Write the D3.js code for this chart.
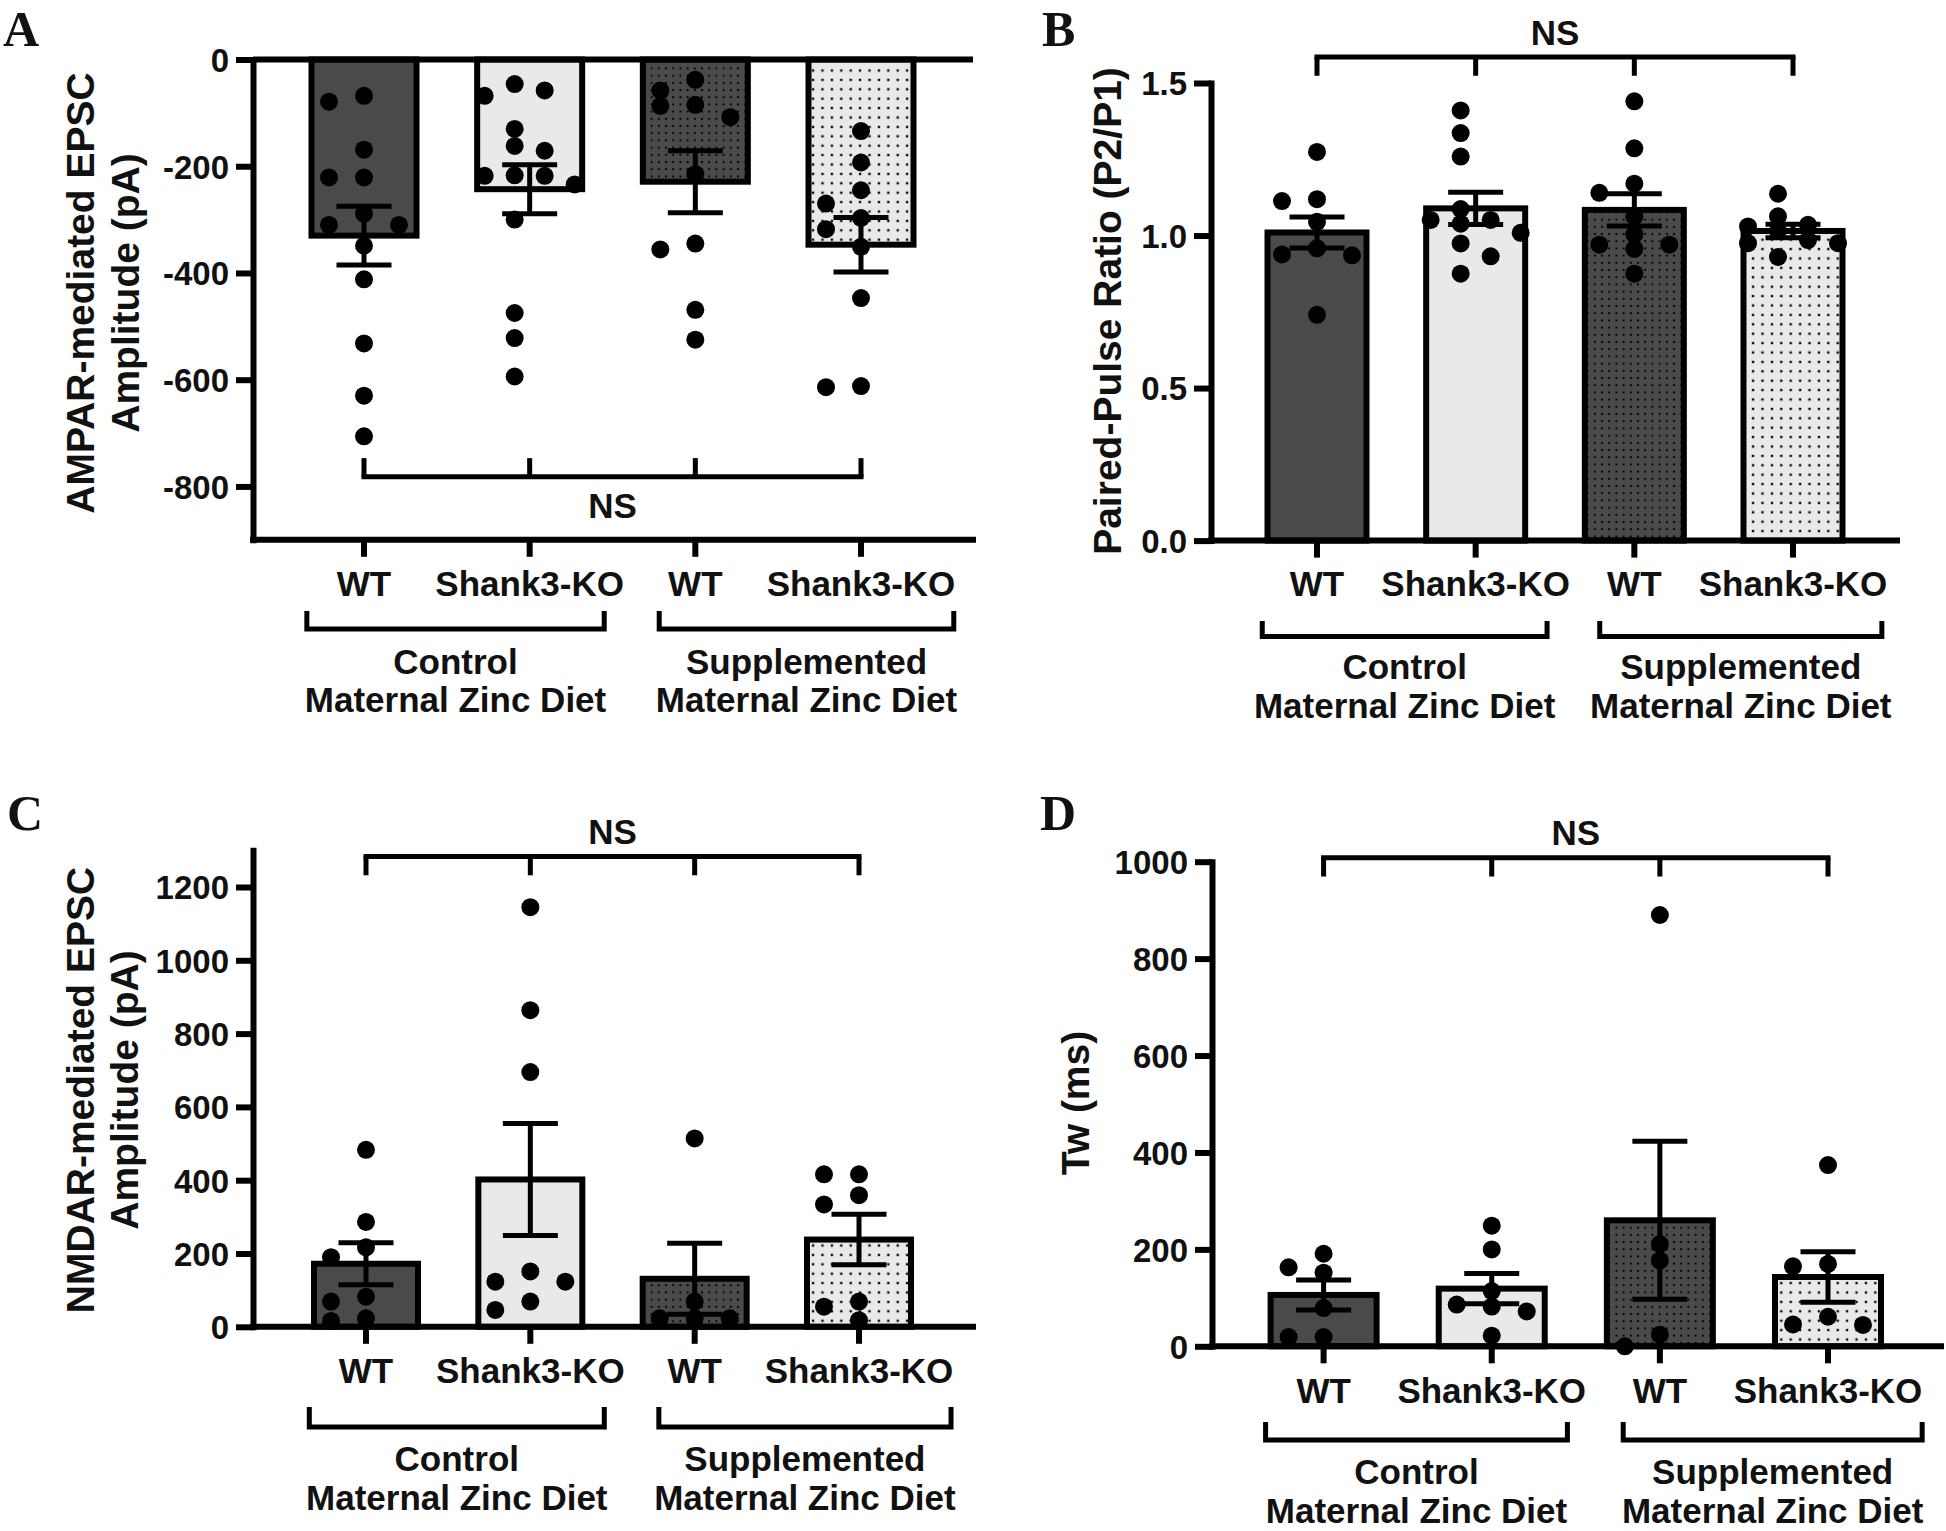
<!DOCTYPE html>
<html><head><meta charset="utf-8">
<script src="https://cdn.jsdelivr.net/npm/d3@7"></script>
<style>
body{margin:0;background:#fff;}
text{font-family:"Liberation Sans",Arial,sans-serif;font-weight:bold;fill:#111;}
</style>
</head><body>
<svg id="c" width="1946" height="1531"></svg>
<script>
// ---------- DATA ----------
const categories = ["WT","Shank3-KO","WT","Shank3-KO"];
const groupNames = ["Control","Supplemented"];
const groupSub = "Maternal Zinc Diet";
const nsLabel = "NS";

// Panel A: AMPAR-mediated EPSC amplitude (pA)
const ampaTitle = ["AMPAR-mediated EPSC","Amplitude (pA)"];
const ampaTicks = [0,-200,-400,-600,-800];
const ampaMean = [-330,-243,-229,-347];
const ampaSem  = [55,46,58,51];
const ampaWTCtrl = [-68,-79,-169,-221,-221,-289,-310,-310,-349,-412,-532,-630,-706];
const ampaKOCtrl = [-46,-58,-68,-130,-162,-171,-217,-218,-218,-234,-300,-475,-522,-594];
const ampaWTSupp = [-38,-58,-85,-87,-108,-215,-345,-356,-469,-525];
const ampaKOSupp = [-134,-193,-245,-270,-297,-318,-351,-447,-612,-614];

// Panel B: Paired-pulse ratio
const ppTitle = ["Paired-Pulse Ratio (P2/P1)"];
const ppTicks = [0,0.5,1.0,1.5];
const ppMean = [1.01,1.089,1.084,1.015];
const ppSem  = [0.051,0.053,0.053,0.022];
const ppWTCtrl = [1.274,1.119,1.113,1.045,0.958,0.938,0.935,0.74];
const ppKOCtrl = [1.41,1.336,1.259,1.087,1.051,1.051,1.039,1.009,0.974,0.932,0.875];
const ppWTSupp = [1.44,1.286,1.17,1.14,1.063,1.004,0.97,0.97,0.956,0.875];
const ppKOSupp = [1.137,1.063,1.035,1.03,1.015,0.985,0.975,0.975,0.93];

// Panel C: NMDAR-mediated EPSC amplitude (pA)
const nmdaTitle = ["NMDAR-mediated EPSC","Amplitude (pA)"];
const nmdaTicks = [0,200,400,600,800,1000,1200];
const nmdaMean = [172,402,131,238];
const nmdaSem  = [57,153,97,69];
const nmdaWTCtrl = [483,286,217,190,82,69,23,16];
const nmdaKOCtrl = [1145,864,695,151,123,123,69,46];
const nmdaWTSupp = [514,69,23,23,23];
const nmdaKOSupp = [416,416,359,334,69,55,18];

// Panel D: Tw (ms)
const twTitle = ["Tw (ms)"];
const twTicks = [0,200,400,600,800,1000];
const twMean = [106,119,260,143];
const twSem  = [31,31,163,52];
const twWTCtrl = [191,163,152,79,19,19];
const twKOCtrl = [249,200,114,86,82,72,22];
const twWTSupp = [890,211,177,24,0];
const twKOSupp = [374,170,165,61,45,44];

// ---------- LAYOUT ----------
const svg = d3.select("#c");
const defs = svg.append("defs");
function dotPattern(id, size, bg, dot){
  const p = defs.append("pattern").attr("id",id).attr("patternUnits","userSpaceOnUse")
    .attr("width",size).attr("height",size);
  p.append("rect").attr("width",size).attr("height",size).attr("fill",bg);
  p.append("rect").attr("x",(size-dot)/2).attr("y",(size-dot)/2).attr("width",dot).attr("height",dot).attr("fill","#000");
}
dotPattern("dotsDark",7.2,"#4a4a4a",1.9);
dotPattern("dotsLight",9.4,"#e9e9e9",2.3);
const barFills = ["#4a4a4a","#e9e9e9","url(#dotsDark)","url(#dotsLight)"];

const panels = [
  {letter:"A", lx:3, ly:46, ax:253, xEnd:973, domain:[0,-900], yRange:[59.5,539.8], base:-900, zeroLine:true,
   catRange:[364,861], barW:111, ticks:ampaTicks, fmt:d=>String(d), means:ampaMean, sems:ampaSem,
   pts:[ampaWTCtrl,ampaKOCtrl,ampaWTSupp,ampaKOSupp], title:ampaTitle, titleX:[80,125], titleCY:293,
   catCY:583.5, brTop:611, brLine:629, gl1:661.7, gl2:699, nsVal:-782, nsDir:-1, nsCY:505},
  {letter:"B", lx:1042, ly:46, ax:1211, xEnd:1897, domain:[0,1.5], yRange:[540.6,83], base:0, zeroLine:false,
   catRange:[1317,1793], barW:105, ticks:ppTicks, fmt:d3.format(".1f"), means:ppMean, sems:ppSem,
   pts:[ppWTCtrl,ppKOCtrl,ppWTSupp,ppKOSupp], title:ppTitle, titleX:[1107], titleCY:311,
   catCY:583, brTop:621, brLine:636.5, gl1:666, gl2:705, nsVal:1.585, nsDir:1, nsCY:32},
  {letter:"C", lx:7, ly:830, ax:253, xEnd:973, domain:[0,1300], yRange:[1326.8,850.35], base:0, zeroLine:false,
   catRange:[366,859], barW:110, ticks:nmdaTicks, fmt:d=>String(d), means:nmdaMean, sems:nmdaSem,
   pts:[nmdaWTCtrl,nmdaKOCtrl,nmdaWTSupp,nmdaKOSupp], title:nmdaTitle, titleX:[80,124], titleCY:1090,
   catCY:1370.7, brTop:1407, brLine:1427, gl1:1458.7, gl2:1497.8, nsVal:1283, nsDir:1, nsCY:831},
  {letter:"D", lx:1040, ly:830, ax:1212, xEnd:1941, domain:[0,1000], yRange:[1346.3,861.7], base:0, zeroLine:false,
   catRange:[1323.6,1828], barW:112, ticks:twTicks, fmt:d=>String(d), means:twMean, sems:twSem,
   pts:[twWTCtrl,twKOCtrl,twWTSupp,twKOSupp], title:twTitle, titleX:[1075], titleCY:1103,
   catCY:1390, brTop:1422, brLine:1440, gl1:1471, gl2:1510, nsVal:1008, nsDir:1, nsCY:832}
];

const R = 9;            // dot radius
const CAP = 55;         // error bar cap width
const FS_TICK = 33, FS_LAB = 35, FS_TITLE = 39;

// lane layout of scatter dots (simple GraphPad-like beeswarm)
function laneLayout(vals, y){
  const order = vals.map(v=>({v, py:y(v)})).sort((a,b)=>a.py-b.py);
  const grids = [[0,-35,35],[-15,15,-45,45],[0,-22.5,22.5,-45,45]];
  const thr = 14;
  for (let gi=0; gi<grids.length; gi++){
    const g = grids[gi]; const placed=[]; let ok=true;
    for (const p of order){
      let lane = g.find(o => placed.every(q => q.dx!==o || Math.abs(q.py-p.py)>=thr));
      if (lane===undefined){ if (gi<grids.length-1){ok=false;break;} lane=0; }
      placed.push({v:p.v, dx:lane, py:p.py});
    }
    if (ok) return placed;
  }
}

panels.forEach(P=>{
  const g = svg.append("g");
  const y = d3.scaleLinear().domain(P.domain).range(P.yRange);
  const x = d3.scalePoint().domain(d3.range(categories.length)).range(P.catRange);
  const step = x.step();
  const baseY = y(P.base);

  // panel letter
  svg.append("text").attr("x",P.lx).attr("y",P.ly).text(P.letter)
    .style("font-family","'Liberation Serif','Times New Roman',serif").attr("font-size",50);

  // bars
  g.selectAll("rect.bar").data(P.means).join("rect").attr("class","bar")
    .attr("x",(d,i)=>x(i)-P.barW/2+3).attr("width",P.barW-6)
    .attr("y",d=>Math.min(y(0),y(d))).attr("height",d=>Math.abs(y(d)-y(0)))
    .attr("fill",(d,i)=>barFills[i]).attr("stroke","#000").attr("stroke-width",6);

  // dots
  P.pts.forEach((vals,i)=>{
    const lay = laneLayout(vals,y);
    g.selectAll(null).data(lay).join("circle")
      .attr("cx",d=>x(i)+d.dx).attr("cy",d=>y(d.v)).attr("r",R).attr("fill","#000");
  });

  // error bars
  const eb = g.selectAll("g.eb").data(P.means).join("g").attr("class","eb");
  eb.append("line").attr("x1",(d,i)=>x(i)).attr("x2",(d,i)=>x(i))
    .attr("y1",(d,i)=>y(d-P.sems[i])).attr("y2",(d,i)=>y(d+P.sems[i]))
    .attr("stroke","#000").attr("stroke-width",5);
  [-1,1].forEach(s=>{
    eb.append("line").attr("x1",(d,i)=>x(i)-CAP/2).attr("x2",(d,i)=>x(i)+CAP/2)
      .attr("y1",(d,i)=>y(d+s*P.sems[i])).attr("y2",(d,i)=>y(d+s*P.sems[i]))
      .attr("stroke","#000").attr("stroke-width",5);
  });

  // y axis
  const ya = g.append("g").attr("transform",`translate(${P.ax},0)`)
    .call(d3.axisLeft(y).tickValues(P.ticks).tickFormat(P.fmt).tickSize(17).tickSizeOuter(0).tickPadding(7));
  ya.attr("color","#000").attr("font-size",FS_TICK).attr("font-family","'Liberation Sans',Arial,sans-serif").attr("font-weight","bold");
  ya.select(".domain").attr("stroke-width",6).attr("stroke-linecap","square");
  ya.selectAll(".tick line").attr("stroke-width",6);
  ya.selectAll(".tick text").attr("dy","0.36em").attr("fill","#111");

  // zero line (panel A) and x axis
  if (P.zeroLine) g.append("line").attr("x1",P.ax).attr("x2",P.xEnd).attr("y1",y(0)).attr("y2",y(0))
      .attr("stroke","#000").attr("stroke-width",6);
  g.append("line").attr("x1",P.ax).attr("x2",P.xEnd).attr("y1",baseY).attr("y2",baseY)
    .attr("stroke","#000").attr("stroke-width",6).attr("stroke-linecap","square");
  g.selectAll("line.ct").data(categories).join("line").attr("class","ct")
    .attr("x1",(d,i)=>x(i)).attr("x2",(d,i)=>x(i)).attr("y1",baseY).attr("y2",baseY+17)
    .attr("stroke","#000").attr("stroke-width",6);

  // category labels
  g.selectAll("text.cat").data(categories).join("text").attr("class","cat")
    .attr("x",(d,i)=>x(i)).attr("y",P.catCY+0.358*FS_LAB).attr("text-anchor","middle")
    .attr("font-size",FS_LAB).text(d=>d);

  // group brackets
  const br = [[x(0)-0.345*step, x(1)+0.45*step],[x(2)-0.218*step, x(3)+0.56*step]];
  br.forEach((b,k)=>{
    g.append("path").attr("d",`M${b[0]},${P.brTop}V${P.brLine}H${b[1]}V${P.brTop}`)
      .attr("fill","none").attr("stroke","#000").attr("stroke-width",5);
    const cx=(b[0]+b[1])/2;
    g.append("text").attr("x",cx).attr("y",P.gl1+0.358*FS_LAB).attr("text-anchor","middle")
      .attr("font-size",FS_LAB).text(groupNames[k]);
    g.append("text").attr("x",cx).attr("y",P.gl2+0.358*FS_LAB).attr("text-anchor","middle")
      .attr("font-size",FS_LAB).text(groupSub);
  });

  // NS bracket
  const nsY = y(P.nsVal);
  g.append("line").attr("x1",x(0)).attr("x2",x(3)).attr("y1",nsY).attr("y2",nsY)
    .attr("stroke","#000").attr("stroke-width",5).attr("stroke-linecap","square");
  g.selectAll("line.nst").data(categories).join("line").attr("class","nst")
    .attr("x1",(d,i)=>x(i)).attr("x2",(d,i)=>x(i)).attr("y1",nsY).attr("y2",nsY+P.nsDir*18.7)
    .attr("stroke","#000").attr("stroke-width",5);
  g.append("text").attr("x",(x(0)+x(3))/2).attr("y",P.nsCY+0.358*FS_LAB).attr("text-anchor","middle")
    .attr("font-size",FS_LAB).text(nsLabel);

  // y title
  P.title.forEach((t,k)=>{
    g.append("text").attr("transform",`translate(${P.titleX[k]},${P.titleCY}) rotate(-90)`)
      .attr("text-anchor","middle").attr("dy","0.358em").attr("font-size",FS_TITLE).text(t);
  });
});
</script>
</body></html>
